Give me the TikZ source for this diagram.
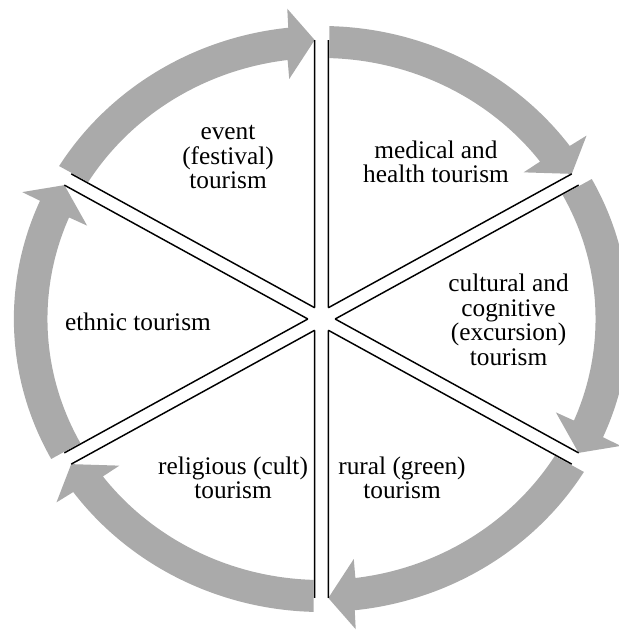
\documentclass[tikz,border=0pt]{standalone}
\usepackage{fontspec}
\setmainfont{Liberation Serif}
\definecolor{bandgray}{RGB}{170,170,170}
\begin{document}
\begin{tikzpicture}[x=0.75pt,y=0.75pt,
  band/.style={fill=bandgray,draw=none},
  spoke/.style={draw=black,line width=1.1pt},
  lbl/.style={align=center,font=\fontsize{19}{18.4}\selectfont,inner sep=0pt}]
\useasboundingbox (-321.5,-312) rectangle (296.5,319);
\begin{scope}[xscale=1.05]
  % bands (clockwise arrows)
  \foreach \a in {150,90,30,-30,-90,-150}{
    \pgfmathsetmacro{\b}{\a-60}
    \fill[band] (\a-1.467:293) arc[start angle=\a-1.467, end angle=\b+6.2, radius=293]
      -- (\b+6.0:312) -- (\b+1.335:279.08) -- (\b+7.3:242) -- (\b+7.1:261)
      arc[start angle=\b+7.1, end angle=\a-1.647, radius=261] -- cycle;
  }
  % spokes
  \foreach \t in {90,30,-30,-90,-150,150}{
    \draw[spoke] (\t+30:13) -- (\t+1.335:279.08);
    \draw[spoke] (\t-30:13) -- (\t-1.335:279.08);
  }
\end{scope}
\node[lbl] (event) at (-93.5,162) {event\\(festival)\\tourism};
\node[lbl] (medical) at (114.5,157) {medical and\\health tourism};
\node[lbl] (cultural) at (187,-1) {cultural and\\cognitive\\(excursion)\\tourism};
\node[lbl] (ethnic) at (-183.5,-3) {ethnic tourism};
\node[lbl] (religious) at (-88.5,-159) {religious (cult)\\tourism};
\node[lbl] (rural) at (80.5,-159) {rural (green)\\tourism};
\end{tikzpicture}
\end{document}
